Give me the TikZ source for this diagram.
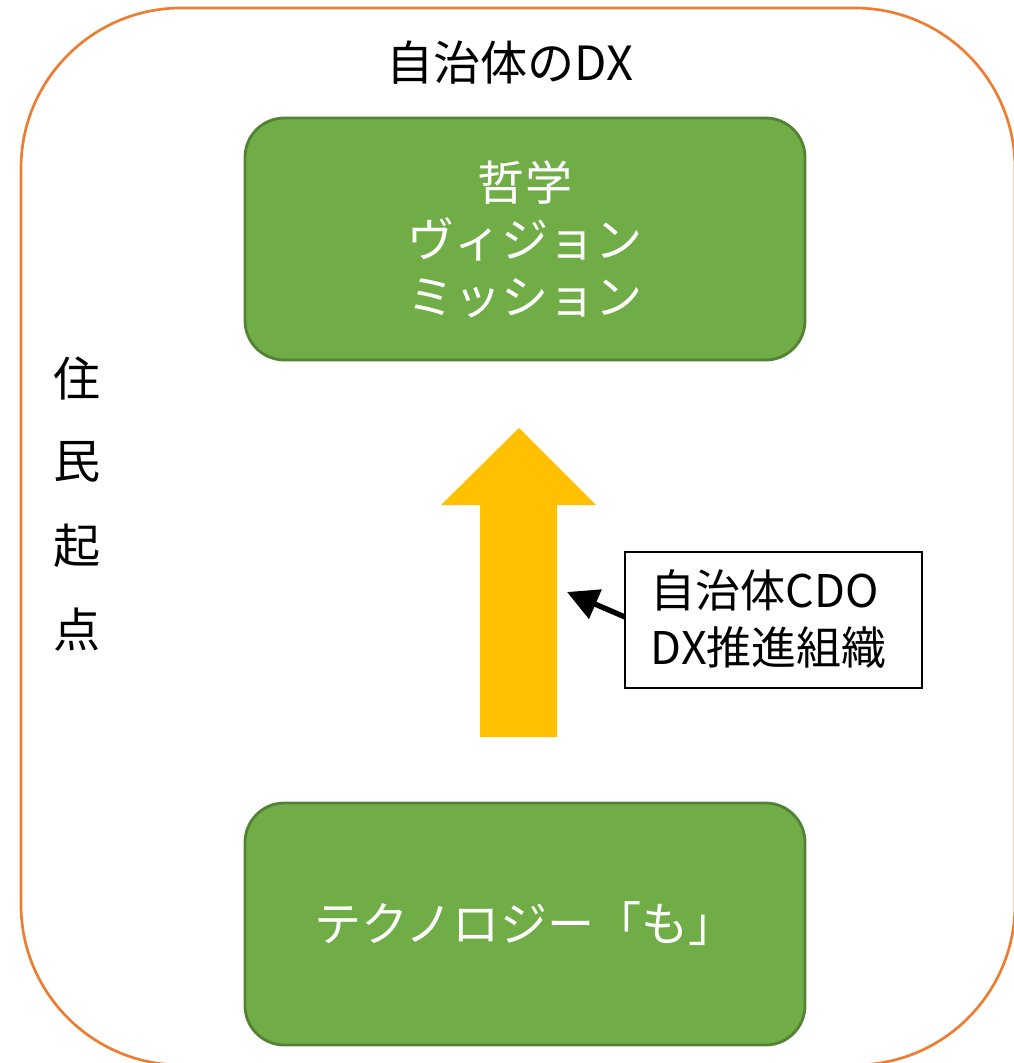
\documentclass[tikz,border=0pt]{standalone}
\usepackage{fontspec}
\setmainfont{Noto Sans CJK JP}
\usetikzlibrary{arrows.meta}
\definecolor{borange}{HTML}{ED7D31}
\definecolor{gfill}{HTML}{70AD47}
\definecolor{gline}{HTML}{548235}
\definecolor{ayellow}{HTML}{FFC000}
\begin{document}
\begin{tikzpicture}[x=0.025cm,y=-0.025cm,
  bigtxt/.style={font=\fontsize{33.5}{40.5}\selectfont},
  boxtxt/.style={font=\fontsize{32}{41}\selectfont},
  greenbox/.style={draw=gline,line width=2pt,fill=gfill,rounded corners=28pt,text=white,align=center,bigtxt}]
\useasboundingbox (0,0) rectangle (1013,1063);
\draw[borange,line width=1.9pt,rounded corners=114pt] (21,8) rectangle (1015,1065);
\node[bigtxt] (title) at (510,63) {自治体のDX};
\node[greenbox,minimum width=560*0.025cm,minimum height=242*0.025cm] (top) at (525,239) {哲学\\ヴィジョン\\ミッション};
\node[greenbox,minimum width=560*0.025cm,minimum height=242*0.025cm] (bottom) at (525,924) {テクノロジー「も」};
\node[bigtxt] (v1) at (77,378) {住};
\node[bigtxt] (v2) at (77,462) {民};
\node[bigtxt] (v3) at (77,546) {起};
\node[bigtxt] (v4) at (77,630) {点};
\fill[ayellow] (480,737) -- (480,505) -- (441,505) -- (519,428) -- (596,505) -- (557,505) -- (557,737) -- cycle;
\node[draw=black,line width=0.9pt,fill=white,minimum width=297*0.025cm,minimum height=136*0.025cm] (cdo) at (773.5,620) {};
\node[boxtxt,align=left,anchor=west] (cdotxt) at (646,619) {自治体CDO\\DX推進組織};
\coordinate (tail) at (625,617);
\coordinate (tip) at (567,592);
\draw[line width=3.8pt,-{Triangle[length=22pt,width=22pt]}] (tail) -- (tip);
\end{tikzpicture}
\end{document}
